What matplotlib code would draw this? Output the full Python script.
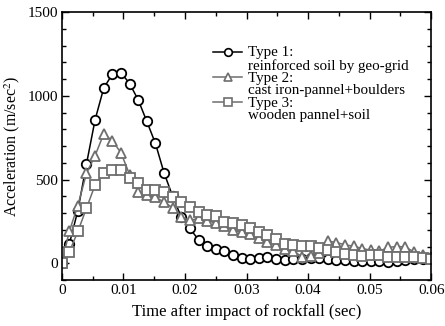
import matplotlib
matplotlib.use('Agg')
import matplotlib.pyplot as plt
from matplotlib.lines import Line2D
from matplotlib.ticker import MultipleLocator, FormatStrFormatter

plt.rcParams['font.family'] = ['Liberation Serif', 'DejaVu Serif']
plt.rcParams['mathtext.fontset'] = 'stix'

# time after impact (sec)
t = [0, 0.0012, 0.0026, 0.0040, 0.0054, 0.0068, 0.0082, 0.0096, 0.0110, 0.0124,
     0.0138, 0.0152, 0.0166, 0.0180, 0.0194, 0.0208, 0.0222, 0.0236, 0.0250, 0.0264,
     0.0278, 0.0292, 0.0306, 0.0320, 0.0334, 0.0348, 0.0362, 0.0376, 0.0390, 0.0404,
     0.0418, 0.0432, 0.0446, 0.0460, 0.0474, 0.0488, 0.0502, 0.0516, 0.0530, 0.0544,
     0.0558, 0.0572, 0.0586, 0.0600]

# acceleration (m/sec^2)
type1 = [0, 113, 315, 593, 857, 1046, 1129, 1139, 1073, 976,
         847, 716, 540, 400, 276, 208, 140, 103, 85, 72,
         48, 32, 24, 32, 38, 28, 18, 24, 28, 32,
         30, 25, 22, 18, 15, 12, 15, 12, 10, 15,
         22, 25, 28, 30]
type2 = [0, 190, 345, 537, 643, 772, 732, 660, 530, 424,
         405, 395, 365, 332, 278, 256, 268, 255, 240, 220,
         196, 186, 172, 150, 130, 110, 85, 75, 38, 45,
         60, 132, 124, 110, 102, 88, 78, 72, 95, 100,
         98, 67, 48, 38]
type3 = [0, 67, 190, 329, 468, 537, 559, 557, 508, 480,
         440, 440, 424, 393, 365, 335, 305, 290, 280, 246,
         238, 226, 209, 189, 167, 145, 117, 110, 105, 103,
         91, 80, 67, 56, 47, 45, 48, 48, 36, 38,
         38, 35, 32, 27]

labels = ['Type 1:', 'Type 2:', 'Type 3:']
notes = ['reinforced soil by geo-grid', 'cast iron-pannel+boulders', 'wooden pannel+soil']

fig = plt.figure(figsize=(4.45, 3.26), dpi=100)
ax = fig.add_axes([0.139, 0.141, 0.830, 0.822])

gray = '#6e6e6e'
styles = [dict(color='black', marker='o', mec='black'),
          dict(color=gray, marker='^', mec=gray),
          dict(color=gray, marker='s', mec=gray)]

handles = []
for y, st in zip([type1, type2, type3], styles):
    h, = ax.plot(t, y, lw=1.1, ms=6.8, mfc='white', mew=1.3, **st)
    handles.append(h)

# legend: first line with marker, second line text only
blank = Line2D([], [], color='none')
leg_h, leg_l = [], []
for h, lab, note in zip(handles, labels, notes):
    h_leg = Line2D([], [], color=h.get_color(), marker=h.get_marker(), ms=5.5,
                   mfc='white', mec=h.get_mec(), mew=1.2, lw=1.1)
    leg_h += [h_leg, blank]
    leg_l += [lab, note]
ax.legend(leg_h, leg_l, loc='upper left', bbox_to_anchor=(0.39, 0.90),
          frameon=False, fontsize=10.8, handlelength=1.9, handletextpad=0.4,
          labelspacing=-0.04, borderpad=0, handleheight=0.5)

ax.set_xlim(0, 0.06)
ax.set_ylim(-100, 1500)
ax.xaxis.set_major_locator(MultipleLocator(0.01))
ax.xaxis.set_minor_locator(MultipleLocator(0.005))
ax.xaxis.set_major_formatter(FormatStrFormatter('%g'))
ax.yaxis.set_major_locator(MultipleLocator(500))
ax.yaxis.set_minor_locator(MultipleLocator(100))
ax.tick_params(which='both', direction='in', top=True, right=True, labelsize=11)
ax.tick_params(which='major', length=5, width=1, pad=3)
ax.tick_params(which='minor', length=3, width=1)
for s in ax.spines.values():
    s.set_linewidth(1.2)

ax.set_xlabel('Time after impact of rockfall (sec)', fontsize=12, labelpad=5)
ax.set_ylabel('Acceleration (m/sec$^2$)', fontsize=11.5, labelpad=4)

fig.savefig('out.png', dpi=100)
